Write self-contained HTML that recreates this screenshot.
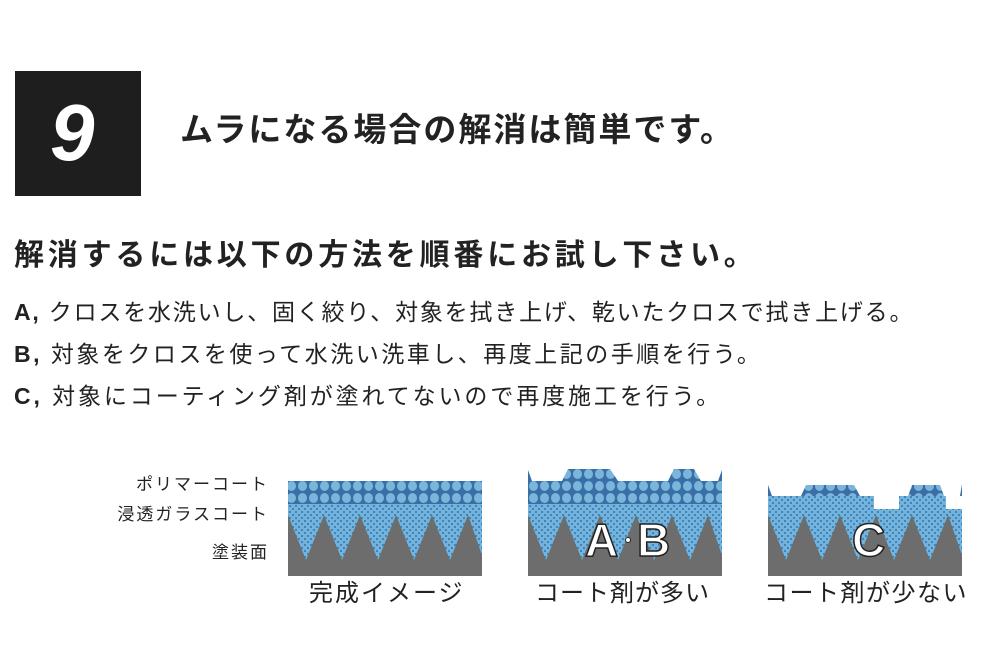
<!DOCTYPE html>
<html><head><meta charset="utf-8"><style>
body{margin:0;width:983px;height:655px;background:#fff;position:relative;overflow:hidden;font-family:"Liberation Sans","Noto Sans CJK JP",sans-serif;color:#222}
.t{position:absolute;white-space:nowrap}
</style></head><body>
<div style="position:absolute;left:15px;top:71px;width:126px;height:125px;background:#1e1e1e"></div>
<div class="t" style="left:50px;top:88px;font-size:80px;font-weight:bold;font-style:italic;color:#fff;line-height:90px">9</div>
<div class="t" style="left:180px;top:110px;font-size:33px;font-weight:bold;line-height:40px;letter-spacing:2px">ムラになる場合の解消は簡単です。</div>
<div class="t" style="left:14px;top:238px;font-size:30px;font-weight:bold;line-height:36px;letter-spacing:3.8px">解消するには以下の方法を順番にお試し下さい。</div>
<div class="t" style="left:14px;top:297px;font-size:23px;line-height:30px;letter-spacing:1.8px"><b>A,</b> クロスを水洗いし、固く絞り、対象を拭き上げ、乾いたクロスで拭き上げる。</div>
<div class="t" style="left:14px;top:339px;font-size:23px;line-height:30px;letter-spacing:2.5px"><b>B,</b> 対象をクロスを使って水洗い洗車し、再度上記の手順を行う。</div>
<div class="t" style="left:14px;top:381px;font-size:23px;line-height:30px;letter-spacing:2.9px"><b>C,</b> 対象にコーティング剤が塗れてないので再度施工を行う。</div>
<div class="t" style="right:714px;top:474px;font-size:17px;line-height:22px;letter-spacing:2px">ポリマーコート</div>
<div class="t" style="right:714px;top:504px;font-size:17px;line-height:22px;letter-spacing:2px">浸透ガラスコート</div>
<div class="t" style="right:714px;top:542px;font-size:17px;line-height:22px;letter-spacing:2px">塗装面</div>
<div class="t" style="left:309px;top:579px;font-size:24px;line-height:30px;letter-spacing:2px">完成イメージ</div>
<div class="t" style="left:535px;top:579px;font-size:24px;line-height:30px;letter-spacing:1px">コート剤が多い</div>
<div class="t" style="left:764px;top:579px;font-size:24px;line-height:30px;letter-spacing:1.5px">コート剤が少ない</div>
<svg width="983" height="655" style="position:absolute;left:0;top:0">
<defs>
<pattern id="d" width="6" height="6" patternUnits="userSpaceOnUse"><rect width="6" height="6" fill="#73b4dc"/><circle cx="2" cy="2" r="1.1" fill="#3f7fb6"/><circle cx="5" cy="5" r="1.1" fill="#3f7fb6"/></pattern>
<pattern id="c" width="11" height="12" patternUnits="userSpaceOnUse"><rect width="11" height="12" fill="#3a6fa6"/><ellipse cx="5.5" cy="6" rx="4.5" ry="5" fill="#7ab6dc"/></pattern>
<g id="tri"><path d="M0 560 L0 515 L18 560 L36 515 L54 560 L72 515 L90 560 L108 515 L126 560 L144 515 L162 560 L180 515 L194 555 L194 576 L0 576 Z" fill="#6d6d6d"/></g>
</defs>
<rect x="288" y="481" width="194" height="95" fill="url(#d)"/>
<rect x="288" y="481" width="194" height="23" fill="url(#c)"/>
<use href="#tri" x="288"/>
<rect x="528" y="481" width="194" height="95" fill="url(#d)"/>
<rect x="528" y="481" width="194" height="23" fill="url(#c)"/>
<polygon points="562,481 568,469 610,469 618,481" fill="url(#c)"/>
<polygon points="668,481 674,469 694,469 701,481" fill="url(#c)"/>
<polygon points="528,470 532,481 528,481" fill="#3a6fa6"/>
<polygon points="722,470 718,481 722,481" fill="#3a6fa6"/>
<use href="#tri" x="528"/>
<path d="M768 496 L874 496 L874 509 L899 509 L899 496 L946 496 L946 509 L962 509 L962 576 L768 576 Z" fill="url(#d)"/>
<polygon points="768,485 772,496 768,496" fill="#3a6fa6"/>
<polygon points="801,496 806,485 854,485 860,496" fill="url(#c)"/>
<polygon points="908,496 912,485 940,485 944,496" fill="url(#c)"/>
<polygon points="962,484 960,496 962,496" fill="#3a6fa6"/>
<use href="#tri" x="768"/>
<g font-family="Liberation Sans,sans-serif" font-size="46" fill="#fff" stroke="#222" stroke-width="1.5" font-weight="bold">
<text x="585" y="556">A</text><text x="637" y="556">B</text><text x="852" y="556">C</text>
</g>
<circle cx="628" cy="540" r="2.5" fill="#fff" stroke="#222"/>
</svg>
</body></html>
